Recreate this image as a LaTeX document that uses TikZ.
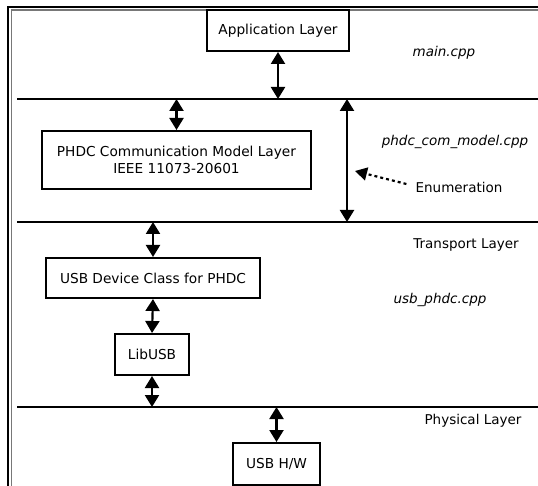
\documentclass[tikz,border=0pt]{standalone}
\usepackage{fontspec}
\setmainfont{DejaVu Sans}
\usepackage{xcolor}
\usetikzlibrary{arrows.meta}
\usetikzlibrary{math}
\definecolor{frameg}{RGB}{120,120,120}

\begin{document}
\begin{tikzpicture}[x=1pt,y=-1pt,
  blk/.style={draw,line width=2pt,align=center,inner sep=0pt,font=\fontsize{13.7}{16.5}\selectfont},
  lbl/.style={inner sep=0pt,font=\fontsize{13.5}{16}\selectfont},
  file/.style={lbl,font=\fontsize{13.5}{16}\selectfont\itshape},
  link/.style={line width=2.2pt,{Triangle[length=12pt,width=14pt]}-{Triangle[length=12pt,width=14pt]}},
  layer/.style={line width=2pt}]

\tikzmath{
\W = 538;
\H = 486;
\ya = 99;
\yb = 222;
\yc = 407;
\xl = 17;
}
\useasboundingbox (0,0) rectangle (\W,\H);

%frame
\draw[line width=1.4pt] (8,\H) -- (8,7) -- (\W,7);
\draw[line width=1.4pt,frameg] (11.5,\H) -- (11.5,10.2) -- (\W,10.2);

%Layers
\coordinate (L1w) at (\xl,\ya);
\coordinate (L1e) at (\W,\ya);
\coordinate (L2w) at (\xl,\yb);
\coordinate (L2e) at (\W,\yb);
\coordinate (L3w) at (\xl,\yc);
\coordinate (L3e) at (\W,\yc);
\draw[layer] (L1w) -- (L1e);
\draw[layer] (L2w) -- (L2e);
\draw[layer] (L3w) -- (L3e);

%%boxes
\node[blk,minimum width=142pt,minimum height=41pt] (app) at (278,30.5) {Application Layer};
\node[blk,minimum width=269pt,minimum height=58pt] (phdc) at (176.5,160) {PHDC Communication Model Layer\\IEEE 11073-20601};
\node[blk,minimum width=214pt,minimum height=40pt] (usbdev) at (153,278) {USB Device Class for PHDC};
\node[blk,minimum width=74pt,minimum height=41pt] (libusb) at (152,354.5) {LibUSB};
\node[blk,minimum width=87pt,minimum height=42pt] (usbhw) at (276.5,464) {USB H/W};

%%labels on the right
\node[file] (maincpp) at (444,53) {main.cpp};
\node[file] (comcpp) at (455,142) {phdc\_com\_model.cpp};
\node[lbl] (enum) at (459,187) {Enumeration};
\node[lbl] (transport) at (466,245) {Transport Layer};
\node[file] (usbcpp) at (440,300) {usb\_phdc.cpp};
\node[lbl] (physical) at (473,421) {Physical Layer};

%links
\draw[link] (app.south) -- (app.south |- L1w);
\draw[link] (phdc.north |- L1w) -- (phdc.north);
\draw[link] (usbdev.north |- L2w) -- (usbdev.north);
\draw[link] (usbdev.south) -- (libusb.north);
\draw[link] (libusb.south) -- (libusb.south |- L3w);
\draw[link] (usbhw.north |- L3w) -- (usbhw.north);

\coordinate (E1) at (347,\ya);
\coordinate (E2) at (347,\yb);
\coordinate (Ein) at (355,171);
\draw[link] (E1) -- (E2);
\draw[line width=2.2pt,dash pattern=on 3pt off 3pt,-{Triangle[length=12pt,width=13pt]}] ([xshift=-9pt,yshift=3pt]enum.west) -- (Ein);

\end{tikzpicture}
\end{document}
